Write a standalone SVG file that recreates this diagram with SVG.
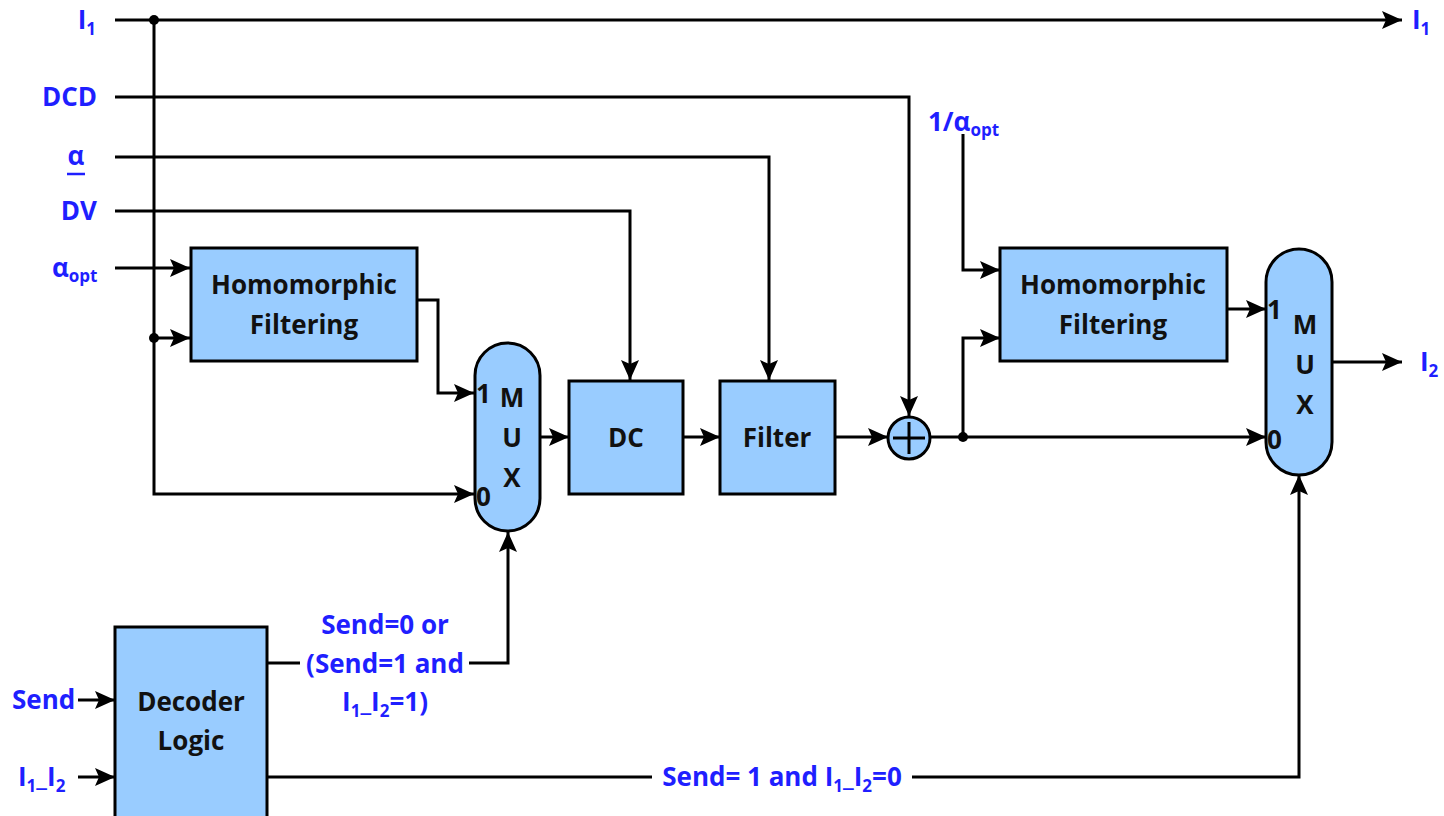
<svg xmlns="http://www.w3.org/2000/svg" width="1444" height="816" viewBox="0 0 1444 816">
<defs>
<marker id="arr" markerUnits="userSpaceOnUse" markerWidth="22" markerHeight="18" refX="20" refY="9" orient="auto">
<path d="M0,0 L20,9 L0,18 L4,9 Z" fill="#000"/>
</marker>
<style>
.w{fill:none;stroke:#000;stroke-width:3}
.box{fill:#99ccff;stroke:#000;stroke-width:3}
.t{font-family:"Open Sans","Liberation Sans",sans-serif;font-weight:bold;font-size:26px;fill:#111}
.b{font-family:"Open Sans","Liberation Sans",sans-serif;font-weight:bold;font-size:26px;fill:#1f1fff}
.s{font-size:17px}
.dot{fill:#000}
</style>
</defs>
<rect width="1444" height="816" fill="#fff"/>
<g id="connectors">
<path class="w" d="M115,20 H1402" marker-end="url(#arr)"/>
<path class="w" d="M154,20 V494 H474" marker-end="url(#arr)"/>
<path class="w" d="M154,338 H190" marker-end="url(#arr)"/>
<path class="w" d="M115,268 H190" marker-end="url(#arr)"/>
<path class="w" d="M115,97 H909 V416" marker-end="url(#arr)"/>
<path class="w" d="M115,157 H769 V380" marker-end="url(#arr)"/>
<path class="w" d="M115,211 H630 V380" marker-end="url(#arr)"/>
<path class="w" d="M417,300 H438 V393 H474" marker-end="url(#arr)"/>
<path class="w" d="M540,437 H569" marker-end="url(#arr)"/>
<path class="w" d="M683,437 H720" marker-end="url(#arr)"/>
<path class="w" d="M835,437 H888" marker-end="url(#arr)"/>
<path class="w" d="M930,437 H1266" marker-end="url(#arr)"/>
<path class="w" d="M963,437 V338 H1000" marker-end="url(#arr)"/>
<path class="w" d="M963,134 V270 H1000" marker-end="url(#arr)"/>
<path class="w" d="M1227,309 H1266" marker-end="url(#arr)"/>
<path class="w" d="M1332,362 H1402" marker-end="url(#arr)"/>
<path class="w" d="M78,700 H115" marker-end="url(#arr)"/>
<path class="w" d="M78,777 H115" marker-end="url(#arr)"/>
<path class="w" d="M267,663 H300"/>
<path class="w" d="M469,663 H508 V532" marker-end="url(#arr)"/>
<path class="w" d="M267,777 H652"/>
<path class="w" d="M912,777 H1299 V475" marker-end="url(#arr)"/>
<circle class="dot" cx="154" cy="20" r="5"/>
<circle class="dot" cx="154" cy="338" r="5"/>
<circle class="dot" cx="963" cy="437" r="5"/>
</g>
<g id="hf1">
<rect class="box" x="191" y="248" width="226" height="113"/>
<text class="t" x="304" y="294" text-anchor="middle">Homomorphic</text>
<text class="t" x="304" y="334" text-anchor="middle">Filtering</text>
</g>
<g id="mux1">
<rect class="box" x="475" y="343" width="65" height="188" rx="32.5" ry="32.5"/>
<text class="t" x="512" y="407" text-anchor="middle">M</text>
<text class="t" x="512" y="447" text-anchor="middle">U</text>
<text class="t" x="512" y="487" text-anchor="middle">X</text>
<text class="t" x="476" y="403">1</text>
<text class="t" x="476" y="506">0</text>
</g>
<g id="dc">
<rect class="box" x="569" y="381" width="114" height="113"/>
<text class="t" x="626" y="447" text-anchor="middle">DC</text>
</g>
<g id="filter">
<rect class="box" x="720" y="381" width="115" height="113"/>
<text class="t" x="777" y="447" text-anchor="middle">Filter</text>
</g>
<g id="adder">
<circle class="box" cx="909" cy="438" r="21"/>
<path class="w" d="M909,422 V454 M893,438 H925"/>
</g>
<g id="hf2">
<rect class="box" x="1000" y="248" width="227" height="113"/>
<text class="t" x="1113" y="294" text-anchor="middle">Homomorphic</text>
<text class="t" x="1113" y="334" text-anchor="middle">Filtering</text>
</g>
<g id="mux2">
<rect class="box" x="1266" y="249" width="66" height="226" rx="33" ry="33"/>
<text class="t" x="1305" y="334" text-anchor="middle">M</text>
<text class="t" x="1305" y="374" text-anchor="middle">U</text>
<text class="t" x="1305" y="414" text-anchor="middle">X</text>
<text class="t" x="1267" y="319">1</text>
<text class="t" x="1267" y="449">0</text>
</g>
<g id="decoder">
<rect class="box" x="115" y="627" width="152" height="200"/>
<text class="t" x="191" y="711" text-anchor="middle">Decoder</text>
<text class="t" x="191" y="750" text-anchor="middle">Logic</text>
</g>
<g id="labels">
<text class="b" x="96" y="29" text-anchor="end">I<tspan class="s" dy="6">1</tspan></text>
<text class="b" x="1412" y="29">I<tspan class="s" dy="6">1</tspan></text>
<text class="b" x="97" y="106" text-anchor="end">DCD</text>
<text class="b" x="76" y="165" text-anchor="middle">α</text>
<path d="M67,174 H85" stroke="#1f1fff" stroke-width="2.5"/>
<text class="b" x="97" y="220" text-anchor="end">DV</text>
<text class="b" x="52" y="277">α<tspan class="s" dy="5">opt</tspan></text>
<text class="b" x="928" y="131">1/α<tspan class="s" dy="5">opt</tspan></text>
<text class="b" x="1420" y="371">I<tspan class="s" dy="6">2</tspan></text>
<text class="b" x="12" y="709">Send</text>
<text class="b" x="18" y="786">I<tspan class="s" dy="6">1</tspan><tspan dy="-6">_I</tspan><tspan class="s" dy="6">2</tspan></text>
<text class="b" x="385" y="634" text-anchor="middle">Send=0 or</text>
<text class="b" x="385" y="673" text-anchor="middle">(Send=1 and</text>
<text class="b" x="385" y="711" text-anchor="middle">I<tspan class="s" dy="6">1</tspan><tspan dy="-6">_I</tspan><tspan class="s" dy="6">2</tspan><tspan dy="-6">=1)</tspan></text>
<text class="b" x="782" y="786" text-anchor="middle">Send= 1 and I<tspan class="s" dy="6">1</tspan><tspan dy="-6">_I</tspan><tspan class="s" dy="6">2</tspan><tspan dy="-6">=0</tspan></text>
</g>
</svg>
